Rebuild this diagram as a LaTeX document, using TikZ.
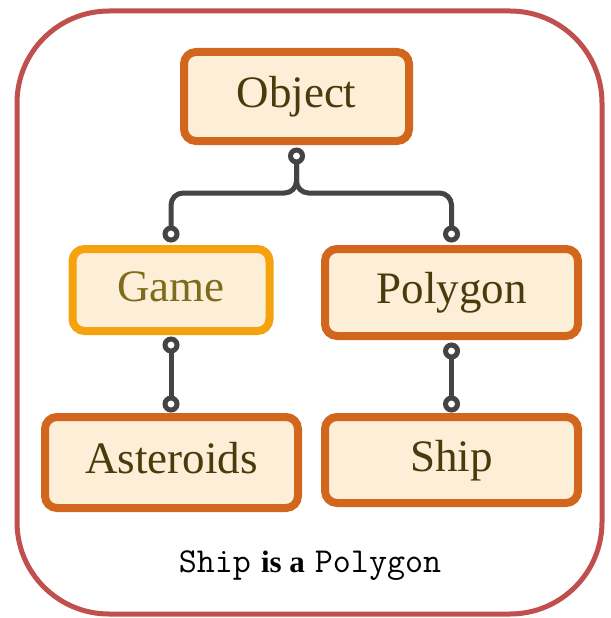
\documentclass[tikz,border=0pt]{standalone}
\usepackage{fontspec}
\setmainfont{Liberation Serif}
\definecolor{framered}{HTML}{C0504D}
\definecolor{boxfill}{HTML}{FDEED8}
\definecolor{boxedge}{HTML}{D2661C}
\definecolor{gameedge}{HTML}{F4A20E}
\definecolor{labeldark}{HTML}{4B3A0C}
\definecolor{labelolive}{HTML}{7E6C1C}
\definecolor{wire}{HTML}{444444}
\tikzset{
  classbox/.style={draw=boxedge, fill=boxfill, line width=8pt, rounded corners=12pt,
    text=labeldark, font=\fontsize{45}{54}\selectfont,
    text height=31.5pt, text depth=9pt, inner sep=0pt},
  link/.style={draw=wire, line width=5pt, rounded corners=12pt},
  joint/.style={draw=wire, fill=white, line width=5pt}
}
\newcommand{\codeword}[1]{{\fontsize{35}{40}\selectfont\ttfamily #1}}
\begin{document}
\begin{tikzpicture}[x=1pt, y=-1pt]
\useasboundingbox (0,0) rectangle (610,618);
% outer frame
\draw[framered, line width=5pt, rounded corners=92pt] (17,11) rectangle (602,614);

% class boxes
\node[classbox, minimum width=225pt, minimum height=89pt] (obj) at (296.5,96.5) {Object};
\node[classbox, draw=gameedge, text=labelolive, minimum width=197pt, minimum height=82pt] (game) at (171,290) {Game};
\node[classbox, minimum width=253pt, minimum height=87pt] (poly) at (451.5,292.5) {Polygon};
\node[classbox, minimum width=253pt, minimum height=91pt] (ast) at (171.5,462.5) {Asteroids};
\node[classbox, minimum width=253pt, minimum height=86pt] (ship) at (451.5,460) {Ship};

% connector end points just outside the boxes
\coordinate (objB) at ([yshift=-11pt]obj.south);
\coordinate (gameT) at ([yshift=11pt]game.north);
\coordinate (polyT) at ([yshift=11pt]poly.north);
\coordinate (gameB) at ([yshift=-10pt]game.south);
\coordinate (astN) at ([yshift=9pt]ast.north);
\coordinate (astT) at (gameB |- astN);
\coordinate (polyB) at ([yshift=-11pt]poly.south);
\coordinate (shipT) at ([yshift=9pt]ship.north);

% inheritance links
\draw[link] (objB) -- (objB |- 0,193) -- (gameT |- 0,193) -- (gameT);
\draw[link] (objB) -- (objB |- 0,193) -- (polyT |- 0,193) -- (polyT);
\draw[link] (gameB) -- (astT);
\draw[link] (polyB) -- (shipT);
\foreach \p in {objB,gameT,polyT,gameB,astT,polyB,shipT}
  \draw[joint] (\p) circle (6pt);

% caption
\node[anchor=base, inner sep=0pt, font=\fontsize{31}{36}\selectfont] (cap) at (310,572)
  {\codeword{Ship}\hspace{10pt}\textbf{is a}\hspace{10pt}\codeword{Polygon}};
\end{tikzpicture}
\end{document}
